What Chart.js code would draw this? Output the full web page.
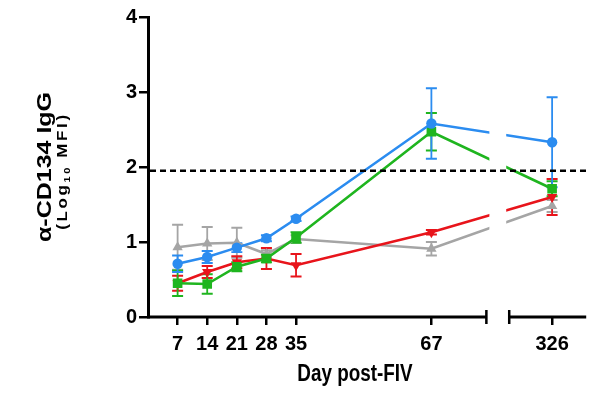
<!DOCTYPE html>
<html>
<head>
<meta charset="utf-8">
<script src="https://cdn.jsdelivr.net/npm/chart.js@4.4.1/dist/chart.umd.min.js"></script>
<style>
  html, body { margin: 0; padding: 0; background: #fff; }
  #wrap { width: 593px; height: 393px; position: relative; }
</style>
</head>
<body>
<div id="wrap"><canvas id="c"></canvas></div>
<script>
// ---- data ----
const days = [7, 14, 21, 28, 35, 67, 326];
const blueMean  = [0.71, 0.80, 0.925, 1.05, 1.31, 2.58, 2.33];
const blueErr   = [0.11, 0.08, 0.06, 0.04, 0.03, 0.47, 0.60];
const greenMean = [0.45, 0.44, 0.67, 0.78, 1.06, 2.47, 1.71];
const greenErr  = [0.17, 0.13, 0.06, 0.05, 0.07, 0.25, 0.10];
const redMean   = [0.45, 0.60, 0.73, 0.78, 0.69, 1.13, 1.60];
const redErr    = [0.10, 0.08, 0.08, 0.14, 0.15, 0.03, 0.24];
const grayMean  = [0.93, 0.98, 0.99, 0.84, 1.04, 0.91, 1.48];
const grayErr   = [0.30, 0.22, 0.20, 0.05, 0.05, 0.09, 0.08];
const threshold = 1.95;
const yTicks = [0, 1, 2, 3, 4];

// ---- broken x axis mapping (days 0-80 | days ~300-346) ----
const BREAK_END_DAY = 80;
const SEG2_START_POS = 85.4;
const SEG2_START_DAY = 300;
const SEG2_SCALE = 0.39;
const X_MAX = 103.6;
function axisPos(d) {
  return d <= BREAK_END_DAY ? d : SEG2_START_POS + (d - SEG2_START_DAY) * SEG2_SCALE;
}
function posToDay(p) {
  return p <= BREAK_END_DAY ? p : Math.round(SEG2_START_DAY + (p - SEG2_START_POS) / SEG2_SCALE);
}

const COLORS = { blue: '#2b8cf0', green: '#1fb51f', red: '#e8141b', gray: '#a5a5a5' };

function series(label, mean, err, color, style, rot, radius) {
  return {
    label,
    data: days.map((d, i) => ({ x: axisPos(d), y: mean[i] })),
    errors: err,
    borderColor: color,
    backgroundColor: color,
    borderWidth: 2.6,
    pointStyle: style,
    rotation: rot,
    pointRadius: radius,
    pointHoverRadius: radius,
    pointBorderWidth: 0,
    tension: 0,
    clip: false
  };
}

const datasets = [
  series('blue', blueMean, blueErr, COLORS.blue, 'circle', 0, 5.2),
  series('green', greenMean, greenErr, COLORS.green, 'rect', 0, 6.8),
  series('red', redMean, redErr, COLORS.red, 'triangle', 180, 6),
  series('gray', grayMean, grayErr, COLORS.gray, 'triangle', 0, 6)
];

const errorBars = {
  id: 'errorBars',
  beforeDatasetsDraw(chart) {
    const ctx = chart.ctx, ys = chart.scales.y, xs = chart.scales.x;
    ctx.save();
    for (let di = chart.data.datasets.length - 1; di >= 0; di--) {
      const ds = chart.data.datasets[di];
      ds.data.forEach((p, i) => {
        const e = ds.errors[i];
        const x = xs.getPixelForValue(p.x);
        const y1 = ys.getPixelForValue(p.y + e);
        const y2 = ys.getPixelForValue(p.y - e);
        ctx.strokeStyle = ds.borderColor;
        ctx.lineWidth = 1.8;
        ctx.beginPath();
        ctx.moveTo(x, y1); ctx.lineTo(x, y2);
        ctx.moveTo(x - 5.5, y1); ctx.lineTo(x + 5.5, y1);
        ctx.moveTo(x - 5.5, y2); ctx.lineTo(x + 5.5, y2);
        ctx.stroke();
      });
    }
    ctx.restore();
    // clip away the lines inside the axis break
    const g1 = xs.getPixelForValue(BREAK_END_DAY) + 3;
    const g2 = xs.getPixelForValue(SEG2_START_POS) - 3;
    ctx.save();
    ctx.beginPath();
    ctx.rect(0, 0, g1, chart.height);
    ctx.rect(g2, 0, chart.width - g2, chart.height);
    ctx.clip();
  },
  afterDatasetsDraw(chart) {
    const ctx = chart.ctx;
    ctx.restore();
    const a = chart.chartArea, ys = chart.scales.y, xs = chart.scales.x;
    ctx.save();
    ctx.strokeStyle = '#000';
    ctx.lineWidth = 2.5;
    ctx.setLineDash([6, 4]);
    const ty = ys.getPixelForValue(threshold);
    ctx.beginPath();
    ctx.moveTo(a.left + 2, ty);
    ctx.lineTo(a.right, ty);
    ctx.stroke();
    ctx.restore();
    ctx.save();
    ctx.strokeStyle = '#000';
    ctx.lineWidth = 3;
    const by = ys.getPixelForValue(0);
    const p1 = xs.getPixelForValue(BREAK_END_DAY);
    const p2 = xs.getPixelForValue(SEG2_START_POS);
    ctx.beginPath();
    ctx.moveTo(a.left - 1, by); ctx.lineTo(p1, by);
    ctx.moveTo(p2, by); ctx.lineTo(a.right, by);
    ctx.stroke();
    ctx.lineWidth = 2.5;
    ctx.beginPath();
    ctx.moveTo(p1, by - 7); ctx.lineTo(p1, by + 7);
    ctx.moveTo(p2, by - 7); ctx.lineTo(p2, by + 7);
    ctx.stroke();
    ctx.restore();
  }
};

const titles = {
  id: 'titles',
  afterDraw(chart) {
    const ctx = chart.ctx;
    ctx.save();
    ctx.fillStyle = '#000';
    ctx.textAlign = 'center';
    ctx.textBaseline = 'middle';
    ctx.save();
    ctx.translate(45, 167);
    ctx.rotate(-Math.PI / 2);
    ctx.scale(1, 0.8);
    ctx.font = 'bold 25px "Liberation Sans", Arial, sans-serif';
    ctx.fillText('\u03B1-CD134 IgG', 0, 0);
    ctx.restore();
    ctx.save();
    ctx.translate(63, 171);
    ctx.rotate(-Math.PI / 2);
    ctx.scale(1, 0.88);
    ctx.textAlign = 'left';
    ctx.letterSpacing = '2.6px';
    const big = 'bold 17px "Liberation Sans", Arial, sans-serif';
    const small = 'bold 11px "Liberation Sans", Arial, sans-serif';
    const parts = [['(Log', big, 0], ['10', small, 5], [' MFI)', big, 0]];
    let total = 0;
    parts.forEach(p => { ctx.font = p[1]; total += ctx.measureText(p[0]).width; });
    let x = -total / 2;
    parts.forEach(p => { ctx.font = p[1]; ctx.fillText(p[0], x, p[2]); x += ctx.measureText(p[0]).width; });
    ctx.restore();
    ctx.save();
    ctx.translate(355, 375);
    ctx.scale(0.82, 1);
    ctx.font = 'bold 23px "Liberation Sans", Arial, sans-serif';
    ctx.fillText('Day post-FIV', 0, 0);
    ctx.restore();
    ctx.restore();
  }
};

new Chart(document.getElementById('c'), {
  type: 'line',
  data: { datasets },
  options: {
    responsive: true,
    maintainAspectRatio: false,
    animation: false,
    events: [],
    layout: { padding: { top: 17, right: 0, left: 0, bottom: 0 } },
    plugins: { legend: { display: false }, tooltip: { enabled: false } },
    scales: {
      x: {
        type: 'linear',
        min: 0,
        max: X_MAX,
        afterBuildTicks(scale) { scale.ticks = days.map(d => ({ value: axisPos(d) })); },
        afterFit(scale) { scale.height = 76; },
        border: { display: false },
        grid: { display: true, drawOnChartArea: false, drawTicks: true, tickLength: 8, color: '#000', lineWidth: 2.5 },
        ticks: {
          autoSkip: false,
          maxRotation: 0,
          padding: 7,
          color: '#000',
          font: { family: '"Liberation Sans", Arial, sans-serif', size: 20, weight: 'bold' },
          callback: (v) => String(posToDay(v))
        }
      },
      y: {
        min: 0,
        max: 4,
        afterBuildTicks(scale) { scale.ticks = yTicks.map(v => ({ value: v })); },
        afterFit(scale) { scale.width = 148; },
        border: { display: true, color: '#000', width: 3 },
        grid: { display: true, drawOnChartArea: false, drawTicks: true, tickLength: 9, color: '#000', lineWidth: 2.5 },
        ticks: {
          padding: 2,
          color: '#000',
          font: { family: '"Liberation Sans", Arial, sans-serif', size: 20, weight: 'bold' }
        }
      }
    }
  },
  plugins: [errorBars, titles]
});
</script>
</body>
</html>
